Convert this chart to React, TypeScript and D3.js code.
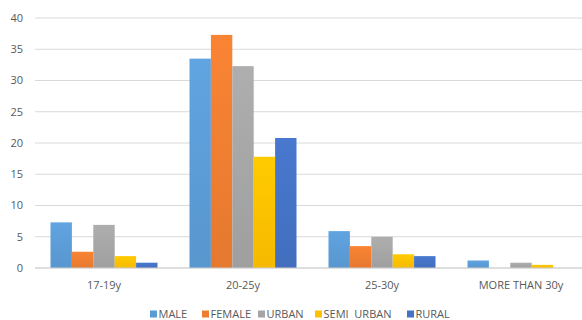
import React from "react";
import * as d3 from "d3";

const categories = ["17-19y", "20-25y", "25-30y", "MORE THAN 30y"];
const seriesNames = ["MALE", "FEMALE", "URBAN", "SEMI  URBAN", "RURAL"];
const seriesColors = ["#5B9BD5", "#ED7D31", "#A5A5A5", "#FFC000", "#4472C4"];
const male = [7.3, 33.5, 5.9, 1.2];
const female = [2.6, 37.3, 3.5, 0];
const urban = [6.9, 32.3, 5.0, 0.85];
const semiUrban = [1.9, 17.8, 2.2, 0.5];
const rural = [0.85, 20.8, 1.9, 0];
const yTicks = [0, 5, 10, 15, 20, 25, 30, 35, 40];

const seriesValues = [male, female, urban, semiUrban, rural];

const W = 582;
const H = 320;
const FONT = "'Open Sans', 'Noto Sans', sans-serif";

export default function App() {
  const x0 = d3.scaleBand<string>().domain(categories).range([34.5, 590.5]).paddingInner(0).paddingOuter(0);
  const x1 = d3
    .scaleBand<string>()
    .domain(seriesNames)
    .range([16, x0.bandwidth() - 16])
    .padding(0);
  const y = d3.scaleLinear().domain([0, 40]).range([268, 18]);

  return (
    <svg
      width={W}
      height={H}
      style={{ position: "absolute", left: 0, top: 0, background: "#fff" }}
      fontFamily={FONT}
    >
      <defs>
        {seriesColors.map((c, i) => (
          <linearGradient key={i} id={`g${i}`} x1="0" y1="0" x2="0" y2="1">
            <stop offset="0%" stopColor={d3.color(c)!.brighter(0.15).formatHex()} />
            <stop offset="100%" stopColor={d3.color(c)!.darker(0.1).formatHex()} />
          </linearGradient>
        ))}
      </defs>
      {yTicks.map((t) => (
        <g key={t}>
          <line x1={35} x2={W} y1={y(t)} y2={y(t)} stroke="#d9d9d9" strokeWidth={1} />
          <text x={23} y={y(t)} dy="0.35em" textAnchor="end" fontSize={11} fill="#595959">
            {t}
          </text>
        </g>
      ))}
      {categories.map((c, ci) => (
        <g key={c} transform={`translate(${x0(c)},0)`}>
          {seriesNames.map((s, si) => {
            const v = seriesValues[si][ci];
            if (v <= 0) return null;
            return (
              <rect
                key={s}
                x={x1(s)}
                y={y(v)}
                width={x1.bandwidth()}
                height={y(0) - y(v)}
                fill={`url(#g${si})`}
              />
            );
          })}
          <text
            x={x0.bandwidth() / 2}
            y={285}
            dy="0.35em"
            textAnchor="middle"
            fontSize={11}
            fill="#595959"
          >
            {c}
          </text>
        </g>
      ))}
      <line x1={35} x2={W} y1={y(0)} y2={y(0)} stroke="#d0d0d0" strokeWidth={1} />
      {seriesNames.map((s, i) => {
        const lx = [150, 202, 258, 315, 407][i];
        return (
          <g key={s} transform={`translate(${lx},314)`}>
            <rect x={0} y={-3.5} width={7} height={7} fill={seriesColors[i]} />
            <text
              x={8.5}
              y={0}
              dy="0.35em"
              fontSize={11}
              fill="#595959"
              style={{ whiteSpace: "pre" }}
            >
              {s}
            </text>
          </g>
        );
      })}
    </svg>
  );
}
